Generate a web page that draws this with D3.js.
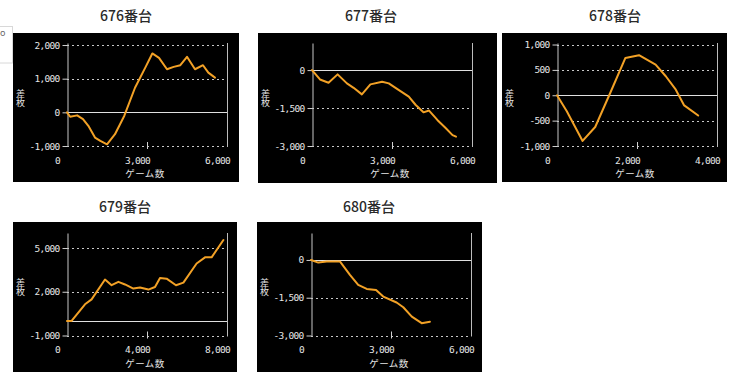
<!DOCTYPE html>
<html><head><meta charset="utf-8">
<script src="https://cdn.jsdelivr.net/npm/d3@7"></script>
<style>body{margin:0;background:#fff;} svg{display:block}</style>
</head><body><svg id="c" width="750" height="382"></svg>
<script>
// ---- data ----
const titles = ["676番台", "677番台", "678番台", "679番台", "680番台"];
const xLabel = "ゲーム数";
const yLabel = "差枚";

const games676 = [0,120,380,600,800,1050,1250,1500,1800,2150,2550,2950,3200,3450,3750,4000,4250,4500,4800,5100,5300,5550];
const diff676  = [0,-130,-90,-200,-400,-750,-850,-950,-650,-100,730,1350,1750,1620,1280,1350,1400,1650,1280,1400,1180,1030];

const games677 = [0,300,620,960,1310,1560,1870,2190,2630,2880,3260,3630,3890,4180,4390,4700,5020,5270,5400];
const diff677  = [0,-370,-500,-170,-525,-700,-960,-565,-460,-525,-790,-1050,-1380,-1670,-1600,-1970,-2300,-2570,-2630];

const games678 = [0,245,640,955,1330,1710,2050,2465,2720,2970,3180,3530];
const diff678  = [0,-315,-900,-625,45,735,790,605,375,110,-200,-400];

const games679 = [0,230,900,1230,1900,2230,2570,2900,3320,3650,4070,4400,4650,4980,5450,5820,6480,6900,7230,7820];
const diff679  = [0,0,1140,1480,2840,2450,2680,2500,2220,2290,2150,2330,2950,2900,2450,2630,3940,4360,4360,5550];

const games680 = [0,275,590,1090,1460,1770,2090,2440,2710,3210,3460,3780,4150,4460];
const diff680  = [0,-105,-65,-65,-595,-990,-1150,-1190,-1455,-1690,-1880,-2250,-2510,-2450];

const yTicks676 = [-1000, 0, 1000, 2000];
const yTicks677 = [-3000, -1500, 0];
const yTicks678 = [-1000, -500, 0, 500, 1000];
const yTicks679 = [-1000, 2000, 5000];
const yTicks680 = [-3000, -1500, 0];

const xTicks676 = [0, 3000, 6000];
const xTicks677 = [0, 3000, 6000];
const xTicks678 = [0, 2000, 4000];
const xTicks679 = [0, 4000, 8000];
const xTicks680 = [0, 3000, 6000];

const yTop = [2060, 1070, 1030, 6030, 1070];

// ---- layout ----
const layout = [
  {box:[13,33,226,149],  plot:[67,227,43,146],    title:[126,15]},
  {box:[258,33,239,150], plot:[312,472,43,146],   title:[371,15]},
  {box:[502,33,225,149], plot:[557,717,43,146],   title:[615,15]},
  {box:[13,222,224,150], plot:[67,227,233,335.5], title:[125,205.5]},
  {box:[257,222,225,150],plot:[311,471,233,335.5],title:[369,205.5]}
];

const panels = [
  {games:games676, diff:diff676, yt:yTicks676, xt:xTicks676},
  {games:games677, diff:diff677, yt:yTicks677, xt:xTicks677},
  {games:games678, diff:diff678, yt:yTicks678, xt:xTicks678},
  {games:games679, diff:diff679, yt:yTicks679, xt:xTicks679},
  {games:games680, diff:diff680, yt:yTicks680, xt:xTicks680}
];

const svg = d3.select("#c");
const fmt = v => d3.format(",")(v).replace("−", "-");
const monoFont = "'DejaVu Sans Mono', 'Liberation Mono', monospace";
const cjkFont = "'Noto Sans CJK JP', sans-serif";

// fragment of neighbouring UI at top-left
svg.append("rect").attr("x", -20).attr("y", 26.5).attr("width", 32.5).attr("height", 36.5)
  .attr("fill", "none").attr("stroke", "#d8d8d8").attr("stroke-width", 1);
svg.append("text").attr("x", 0).attr("y", 36).attr("font-family", "'Noto Sans', sans-serif")
  .attr("font-size", 9).attr("fill", "#666").text("o");

panels.forEach((p, i) => {
  const L = layout[i];
  const [bx, by, bw, bh] = L.box;
  const [pl, pr, pt, pb] = L.plot;

  svg.append("text").attr("x", L.title[0]).attr("y", L.title[1])
    .attr("text-anchor", "middle").attr("dominant-baseline", "central")
    .attr("font-family", cjkFont).attr("font-size", 14).attr("font-weight", 500)
    .attr("fill", "#2a2a2a").text(titles[i]);

  svg.append("rect").attr("x", bx).attr("y", by).attr("width", bw).attr("height", bh).attr("fill", "#000");

  const x = d3.scaleLinear().domain([p.xt[0], p.xt[p.xt.length - 1]]).range([pl, pr]);
  const y = d3.scaleLinear().domain([p.yt[0], yTop[i]]).range([pb, pt]);

  const g = svg.append("g");

  // dashed grid
  g.selectAll("line.grid").data(p.yt.filter(v => v !== 0)).join("line")
    .attr("x1", pl).attr("x2", pr)
    .attr("y1", d => Math.round(y(d)) + 0.5).attr("y2", d => Math.round(y(d)) + 0.5)
    .attr("stroke", "#c8c8c8").attr("stroke-width", 1).attr("stroke-dasharray", "2,3");

  // zero line
  g.append("line").attr("x1", pl).attr("x2", pr)
    .attr("y1", Math.round(y(0)) + 0.5).attr("y2", Math.round(y(0)) + 0.5)
    .attr("stroke", "#e0e0e0").attr("stroke-width", 1.2);

  // right border line
  g.append("line").attr("x1", pr + 0.5).attr("x2", pr + 0.5).attr("y1", pt).attr("y2", pb + 1)
    .attr("stroke", "#bdbdbd").attr("stroke-width", 1);

  // middle x ticks
  g.selectAll("line.xt").data(p.xt.slice(1, -1)).join("line")
    .attr("x1", d => Math.round(x(d)) + 0.5).attr("x2", d => Math.round(x(d)) + 0.5)
    .attr("y1", pb - 4).attr("y2", pb + 3)
    .attr("stroke", "#d0d0d0").attr("stroke-width", 1);

  // y axis
  const ya = g.append("g").attr("transform", `translate(${Math.round(pl) + 0.5},0)`)
    .call(d3.axisLeft(y).tickValues(p.yt).tickSizeInner(5).tickSizeOuter(0).tickPadding(3).tickFormat(fmt));
  ya.select(".domain").attr("stroke", "#c8c8c8");
  ya.selectAll(".tick line").attr("stroke", "#d0d0d0");
  ya.selectAll("text").attr("fill", "#e6e6e6").attr("font-family", monoFont)
    .attr("font-size", 9.5).attr("letter-spacing", "-0.7px");

  // x axis labels
  const xa = g.append("g").attr("transform", `translate(0,${pb})`)
    .call(d3.axisBottom(x).tickValues(p.xt).tickSize(0).tickPadding(11).tickFormat(fmt));
  xa.select(".domain").remove();
  xa.selectAll("text").attr("fill", "#e6e6e6").attr("font-family", monoFont)
    .attr("font-size", 9.5).attr("letter-spacing", "-0.7px").attr("dx", -10);

  // axis titles
  g.append("text").attr("x", (pl + pr) / 2 - 2).attr("y", pb + 27)
    .attr("text-anchor", "middle").attr("dominant-baseline", "central")
    .attr("font-family", cjkFont).attr("font-size", 9.5).attr("fill", "#e6e6e6")
    .attr("letter-spacing", "0.5px").text(xLabel);
  g.append("text").attr("x", bx + 7.5).attr("y", by + 65.5)
    .attr("writing-mode", "vertical-rl").style("writing-mode", "vertical-rl")
    .attr("text-anchor", "middle")
    .attr("font-family", cjkFont).attr("font-size", 9)
    .attr("fill", "#e6e6e6").text(yLabel);

  // data line
  const line = d3.line().x((d, k) => x(p.games[k])).y(d => y(d));
  g.append("path").datum(p.diff).attr("d", line)
    .attr("fill", "none").attr("stroke", "#f2a126").attr("stroke-width", 2)
    .attr("stroke-linejoin", "round").attr("stroke-linecap", "round");
});
</script>
</body></html>
